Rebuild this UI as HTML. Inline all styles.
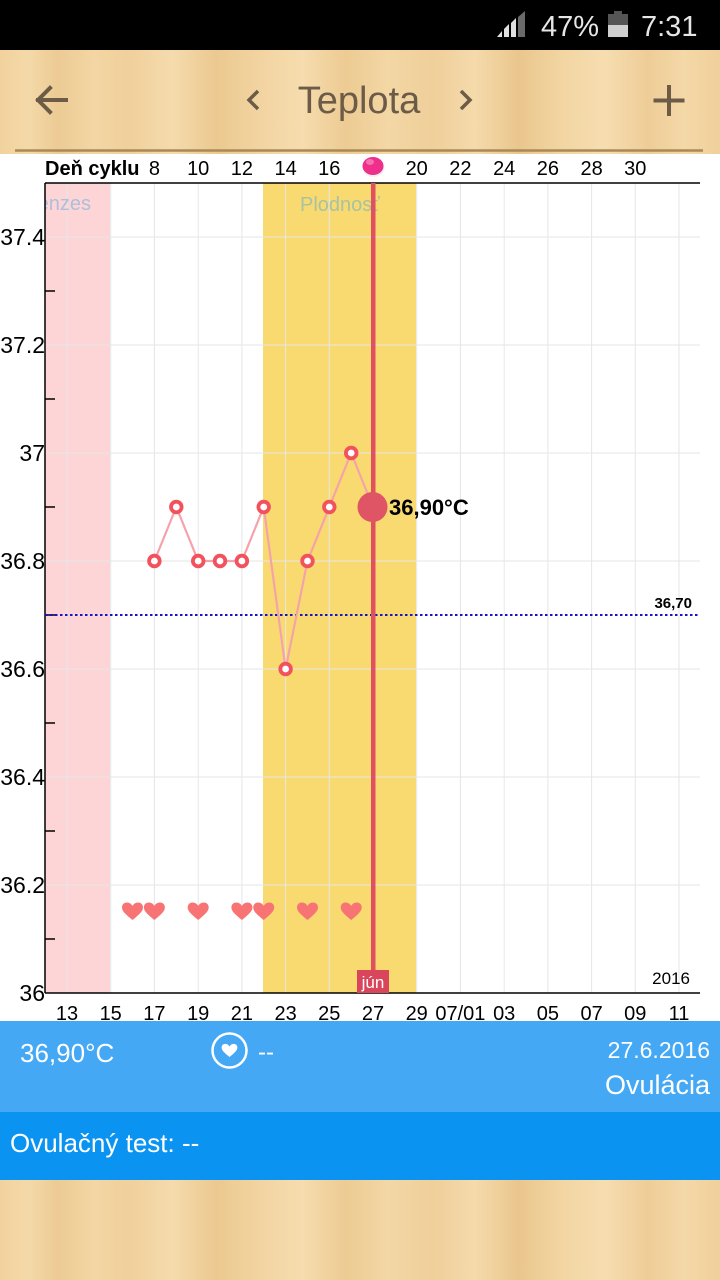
<!DOCTYPE html>
<html><head><meta charset="utf-8"><style>
html,body{margin:0;padding:0;width:720px;height:1280px;overflow:hidden;background:#fff}
svg{display:block}
text{font-family:"Liberation Sans",sans-serif}
</style></head><body>
<svg width="720" height="1280" viewBox="0 0 720 1280" xmlns="http://www.w3.org/2000/svg">
<defs>
<linearGradient id="wood" x1="0" x2="1" y1="0" y2="0">
<stop offset="0" stop-color="#f1d29e"/>
<stop offset="0.04" stop-color="#f4d9a8"/>
<stop offset="0.08" stop-color="#eccb94"/>
<stop offset="0.13" stop-color="#f3d6a4"/>
<stop offset="0.18" stop-color="#f0d09c"/>
<stop offset="0.24" stop-color="#f5dbad"/>
<stop offset="0.3" stop-color="#ebc990"/>
<stop offset="0.36" stop-color="#f2d4a1"/>
<stop offset="0.42" stop-color="#f6dcae"/>
<stop offset="0.48" stop-color="#edcb93"/>
<stop offset="0.54" stop-color="#f3d7a5"/>
<stop offset="0.6" stop-color="#efcf9a"/>
<stop offset="0.66" stop-color="#f5daab"/>
<stop offset="0.72" stop-color="#eac68d"/>
<stop offset="0.78" stop-color="#f2d5a2"/>
<stop offset="0.84" stop-color="#f6ddb0"/>
<stop offset="0.9" stop-color="#eecd97"/>
<stop offset="0.95" stop-color="#f4d8a7"/>
<stop offset="1" stop-color="#f0d09c"/>
</linearGradient>
<clipPath id="plot"><rect x="45" y="183" width="655" height="810"/></clipPath>
<path id="ht" d="M0,8 C-6,3 -10.5,-0.5 -10.5,-4.5 C-10.5,-8 -8,-9.5 -5.5,-9.5 C-3,-9.5 -1,-8 0,-6 C1,-8 3,-9.5 5.5,-9.5 C8,-9.5 10.5,-8 10.5,-4.5 C10.5,-0.5 6,3 0,8Z"/>
</defs>

<rect x="0" y="0" width="720" height="1280" fill="#fff"/>

<!-- status bar -->
<rect x="0" y="0" width="720" height="50" fill="#000"/>
<polygon points="497,37 502,37 502,31" fill="#e0e0e0"/>
<polygon points="504,37 509,37 509,24 504,29" fill="#e0e0e0"/>
<polygon points="511,37 516,37 516,18 511,23" fill="#e0e0e0"/>
<polygon points="518,37 525,37 525,11 518,17" fill="#6a6a6a"/>
<text x="541" y="36" font-size="29" fill="#e6e6e6">47%</text>
<rect x="614" y="11" width="8" height="3" fill="#555"/>
<rect x="608" y="14" width="20" height="11" fill="#555"/>
<rect x="608" y="25" width="20" height="12" fill="#cfcfcf"/>
<text x="641" y="36" font-size="29" fill="#e6e6e6">7:31</text>

<!-- header wood -->
<rect x="0" y="50" width="720" height="104" fill="url(#wood)"/>
<line x1="15" y1="150.5" x2="703" y2="150.5" stroke="#a88a58" stroke-width="2.5"/>
<g stroke="#6b5b47" stroke-width="4" fill="none" stroke-linecap="square">
<line x1="38" y1="100" x2="66" y2="100"/>
<polyline points="50,88 38,100 50,112"/>
<line x1="669" y1="87" x2="669" y2="114"/>
<line x1="655.5" y1="100.5" x2="682.5" y2="100.5"/>
</g>
<g stroke="#6b5b47" stroke-width="3.5" fill="none">
<polyline points="258,91 249,100 258,109"/>
<polyline points="461,91 470,100 461,109"/>
</g>
<text x="359" y="113" font-size="38" fill="#6b5b47" text-anchor="middle">Teplota</text>

<!-- chart bands -->
<rect x="45" y="183" width="65" height="810" fill="#fdd5d6"/>
<rect x="263" y="183" width="153" height="810" fill="#f9da70"/>

<!-- grid -->
<g stroke="#e6e6e6" stroke-width="1">
<line x1="67" y1="183" x2="67" y2="993"/>
<line x1="110.7" y1="183" x2="110.7" y2="993"/>
<line x1="154.4" y1="183" x2="154.4" y2="993"/>
<line x1="198.2" y1="183" x2="198.2" y2="993"/>
<line x1="241.9" y1="183" x2="241.9" y2="993"/>
<line x1="285.6" y1="183" x2="285.6" y2="993"/>
<line x1="329.3" y1="183" x2="329.3" y2="993"/>
<line x1="373" y1="183" x2="373" y2="993"/>
<line x1="416.7" y1="183" x2="416.7" y2="993"/>
<line x1="460.4" y1="183" x2="460.4" y2="993"/>
<line x1="504.2" y1="183" x2="504.2" y2="993"/>
<line x1="547.9" y1="183" x2="547.9" y2="993"/>
<line x1="591.6" y1="183" x2="591.6" y2="993"/>
<line x1="635.3" y1="183" x2="635.3" y2="993"/>
<line x1="679" y1="183" x2="679" y2="993"/>
<line x1="45" y1="237" x2="700" y2="237"/>
<line x1="45" y1="345" x2="700" y2="345"/>
<line x1="45" y1="453" x2="700" y2="453"/>
<line x1="45" y1="561" x2="700" y2="561"/>
<line x1="45" y1="669" x2="700" y2="669"/>
<line x1="45" y1="777" x2="700" y2="777"/>
<line x1="45" y1="885" x2="700" y2="885"/>
</g>

<!-- band labels -->
<g clip-path="url(#plot)">
<text x="21" y="210" font-size="20" fill="#aebfdc">Menzes</text>
</g>
<text x="300" y="211" font-size="20" fill="#a9c2a2">Plodnosť</text>

<!-- axes -->
<line x1="45" y1="183" x2="700" y2="183" stroke="#000" stroke-width="1.5"/>
<line x1="45" y1="183" x2="45" y2="993" stroke="#000" stroke-width="1.5"/>
<line x1="45" y1="993" x2="700" y2="993" stroke="#000" stroke-width="1.5"/>
<g stroke="#000" stroke-width="1.5">
<line x1="45" y1="291" x2="55" y2="291"/>
<line x1="45" y1="399" x2="55" y2="399"/>
<line x1="45" y1="507" x2="55" y2="507"/>
<line x1="45" y1="615" x2="55" y2="615"/>
<line x1="45" y1="723" x2="55" y2="723"/>
<line x1="45" y1="831" x2="55" y2="831"/>
<line x1="45" y1="939" x2="55" y2="939"/>
</g>

<!-- y labels -->
<g font-size="23" fill="#000" text-anchor="end">
<text x="45" y="245">37.4</text>
<text x="45" y="353">37.2</text>
<text x="45" y="461">37</text>
<text x="45" y="569">36.8</text>
<text x="45" y="677">36.6</text>
<text x="45" y="785">36.4</text>
<text x="45" y="893">36.2</text>
<text x="45" y="1001">36</text>
</g>

<!-- top labels -->
<text x="45" y="175" font-size="20" font-weight="bold" fill="#000">Deň cyklu</text>
<g font-size="20" fill="#000" text-anchor="middle">
<text x="154.4" y="175">8</text>
<text x="198.2" y="175">10</text>
<text x="241.9" y="175">12</text>
<text x="285.6" y="175">14</text>
<text x="329.3" y="175">16</text>
<text x="416.7" y="175">20</text>
<text x="460.4" y="175">22</text>
<text x="504.2" y="175">24</text>
<text x="547.9" y="175">26</text>
<text x="591.6" y="175">28</text>
<text x="635.3" y="175">30</text>
</g>

<!-- bottom labels -->
<g font-size="20" fill="#000" text-anchor="middle">
<text x="67" y="1020">13</text>
<text x="110.7" y="1020">15</text>
<text x="154.4" y="1020">17</text>
<text x="198.2" y="1020">19</text>
<text x="241.9" y="1020">21</text>
<text x="285.6" y="1020">23</text>
<text x="329.3" y="1020">25</text>
<text x="373" y="1020">27</text>
<text x="416.7" y="1020">29</text>
<text x="460.4" y="1020">07/01</text>
<text x="504.2" y="1020">03</text>
<text x="547.9" y="1020">05</text>
<text x="591.6" y="1020">07</text>
<text x="635.3" y="1020">09</text>
<text x="679" y="1020">11</text>
</g>
<text x="690" y="984" font-size="17" fill="#000" text-anchor="end">2016</text>

<!-- coverline -->
<line x1="45" y1="615" x2="700" y2="615" stroke="#1414c8" stroke-width="2" stroke-dasharray="2.5,2.5"/>
<text x="692" y="608" font-size="15" font-weight="bold" fill="#000" text-anchor="end">36,70</text>

<!-- today line -->
<rect x="371" y="183" width="4.5" height="810" fill="#e0505e"/>
<ellipse cx="373.5" cy="168" rx="11" ry="9" fill="#f4f0f2"/>
<ellipse cx="373" cy="166" rx="10.5" ry="9" fill="#ee2f8c"/>
<ellipse cx="370" cy="162" rx="4" ry="3" fill="#f66fb0"/>
<rect x="357" y="970" width="32" height="23" fill="#d9455b"/>
<text x="373" y="988" font-size="17" fill="#fff" text-anchor="middle">jún</text>

<!-- data -->
<polyline fill="none" stroke="#f5a3aa" stroke-width="2.2" points="154.4,561 176.3,507 198.2,561 220,561 241.9,561 263.7,507 285.6,669 307.5,561 329.3,507 351.2,453 373,507"/>
<g fill="#fff" stroke="#f2525c" stroke-width="3.8">
<circle cx="154.4" cy="561" r="5.3"/>
<circle cx="176.3" cy="507" r="5.3"/>
<circle cx="198.2" cy="561" r="5.3"/>
<circle cx="220" cy="561" r="5.3"/>
<circle cx="241.9" cy="561" r="5.3"/>
<circle cx="263.7" cy="507" r="5.3"/>
<circle cx="285.6" cy="669" r="5.3"/>
<circle cx="307.5" cy="561" r="5.3"/>
<circle cx="329.3" cy="507" r="5.3"/>
<circle cx="351.2" cy="453" r="5.3"/>
</g>
<circle cx="372.5" cy="507" r="15" fill="#e05565"/>
<text x="389" y="515" font-size="22" font-weight="bold" fill="#000">36,90°C</text>

<!-- hearts -->
<g fill="#f87474">
<use href="#ht" x="132.5" y="912"/>
<use href="#ht" x="154.4" y="912"/>
<use href="#ht" x="198.2" y="912"/>
<use href="#ht" x="241.9" y="912"/>
<use href="#ht" x="263.7" y="912"/>
<use href="#ht" x="307.5" y="912"/>
<use href="#ht" x="351.2" y="912"/>
</g>

<!-- info bars -->
<rect x="0" y="1021" width="720" height="91" fill="#44a8f5"/>
<rect x="0" y="1112" width="720" height="68" fill="#0b93f2"/>
<text x="20" y="1062" font-size="26" fill="#fff">36,90°C</text>
<circle cx="229.5" cy="1050.5" r="17" fill="none" stroke="#fff" stroke-width="2.5"/>
<use href="#ht" x="229.5" y="1051" fill="#fff" transform="translate(229.5,1051) scale(0.75) translate(-229.5,-1051)"/>
<text x="258" y="1060" font-size="24" fill="#fff">--</text>
<text x="710" y="1058" font-size="23" fill="#fff" text-anchor="end">27.6.2016</text>
<text x="710" y="1094" font-size="27" fill="#fff" text-anchor="end">Ovulácia</text>
<text x="10" y="1152" font-size="26" fill="#fff">Ovulačný test: --</text>

<!-- bottom wood -->
<rect x="0" y="1180" width="720" height="100" fill="url(#wood)"/>
</svg>
</body></html>
